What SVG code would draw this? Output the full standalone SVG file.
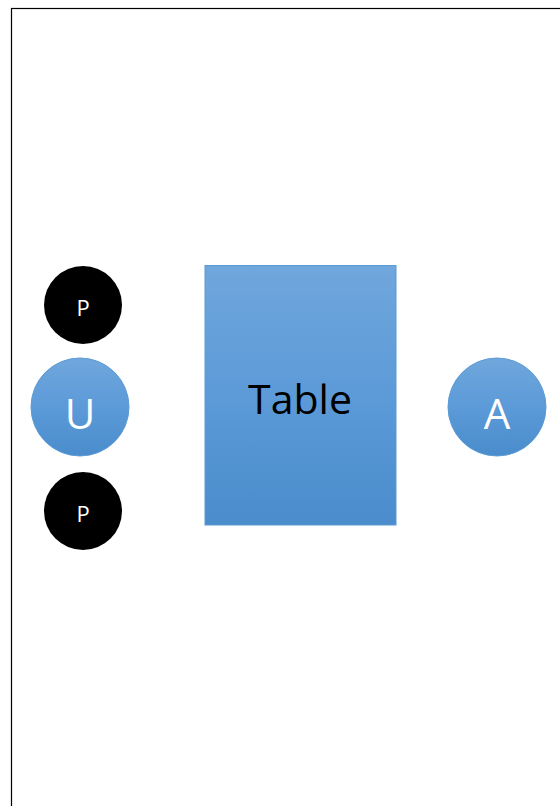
<svg xmlns="http://www.w3.org/2000/svg" width="560" height="806" viewBox="0 0 560 806">
<defs>
<linearGradient id="blue" x1="0" y1="0" x2="0" y2="1">
<stop offset="0" stop-color="#70a7dc"/>
<stop offset="0.5" stop-color="#5c9ad8"/>
<stop offset="1" stop-color="#4a8ccc"/>
</linearGradient>
<style>
.blue{fill:url(#blue);stroke:#5b9bd5;stroke-width:1}
.blk{fill:#000}
text{font-family:"Open Sans","Liberation Sans",sans-serif;text-anchor:middle;dominant-baseline:central}
.w{fill:#fff}
</style>
</defs>
<rect x="0" y="0" width="560" height="806" fill="#fff"/>
<rect x="11.5" y="8.5" width="600" height="850" fill="none" stroke="#000" stroke-width="1.2"/>
<g id="connectors"></g>
<g id="table">
<rect class="blue" x="205" y="265.5" width="191" height="259.5"/>
<text x="300" y="398" font-size="41" fill="#000">Table</text>
</g>
<g id="p-top">
<circle class="blk" cx="83" cy="305" r="39"/>
<text class="w" x="83" y="307" font-size="22">P</text>
</g>
<g id="u">
<circle class="blue" cx="80" cy="407" r="49"/>
<text class="w" x="80" y="412" font-size="42">U</text>
</g>
<g id="p-bottom">
<circle class="blk" cx="83" cy="511" r="39"/>
<text class="w" x="83" y="513" font-size="22">P</text>
</g>
<g id="a">
<circle class="blue" cx="497" cy="407" r="49"/>
<text class="w" x="497" y="412" font-size="42">A</text>
</g>
</svg>
